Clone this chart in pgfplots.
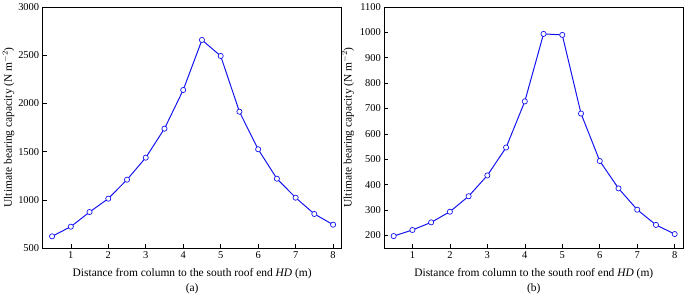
\documentclass[border=0pt]{standalone}
\usepackage{pgfplots}
\pgfplotsset{compat=1.18}
\usepackage{fontspec}
\setmainfont{Liberation Serif}
\definecolor{lineblue}{RGB}{20,20,240}
\pgfplotsset{
  common/.style={
    scale only axis,
    clip=false,
    width=299bp, height=241bp,
    xmin=0.25, xmax=8.23,
    xtick={1,2,3,4,5,6,7,8},
    tick align=inside,
    tick pos=left,
    major tick length=4bp,
    tick style={black, line width=0.6pt},
    axis line style={black, line width=0.6pt},
    /pgf/number format/assume math mode=true,
    /pgf/number format/1000 sep={},
    tick label style={font=\fontsize{10.5}{12}\selectfont},
    label style={font=\fontsize{11.5}{13}\selectfont},
    xlabel={Distance from column to the south roof end \textit{HD} (m)},
    ylabel={Ultimate bearing capacity (N m$^{-2}$)},
    xlabel style={yshift=-3bp},
  }
}
\begin{document}
\begin{tikzpicture}
\path[use as bounding box] (-42.7bp,-49bp) rectangle (642.3bp,248bp);
\begin{axis}[common, at={(0,0)}, anchor=south west,
  ymin=500, ymax=3000, ytick={500,1000,1500,2000,2500,3000},
  ylabel style={yshift=-3bp}]
\addplot[lineblue, line width=1pt, mark=*, mark size=2.6bp, mark options={fill=white, draw=lineblue, line width=0.7pt}] coordinates {
(0.5,621) (1,721) (1.5,873) (2,1012) (2.5,1209) (3,1437) (3.5,1738) (4,2139)
(4.5,2658) (5,2492) (5.5,1914) (6,1524) (6.5,1219) (7,1022) (7.5,853) (8,742)};
\node[font=\fontsize{11.5}{13}\selectfont] at (rel axis cs:0.5,0) [yshift=-41bp] {(a)};
\end{axis}
\begin{axis}[common, at={(341.6bp,0)}, anchor=south west,
  ymin=150, ymax=1100, ytick={200,300,400,500,600,700,800,900,1000,1100},
  ylabel style={yshift=-1bp}]
\addplot[lineblue, line width=1pt, mark=*, mark size=2.6bp, mark options={fill=white, draw=lineblue, line width=0.7pt}] coordinates {
(0.5,197) (1,221) (1.5,251) (2,293) (2.5,354) (3,436) (3.5,546) (4,728)
(4.5,994) (5,990) (5.5,680) (6,493) (6.5,385) (7,301) (7.5,241) (8,205)};
\node[font=\fontsize{11.5}{13}\selectfont] at (rel axis cs:0.5,0) [yshift=-41bp] {(b)};
\end{axis}
\end{tikzpicture}
\end{document}
